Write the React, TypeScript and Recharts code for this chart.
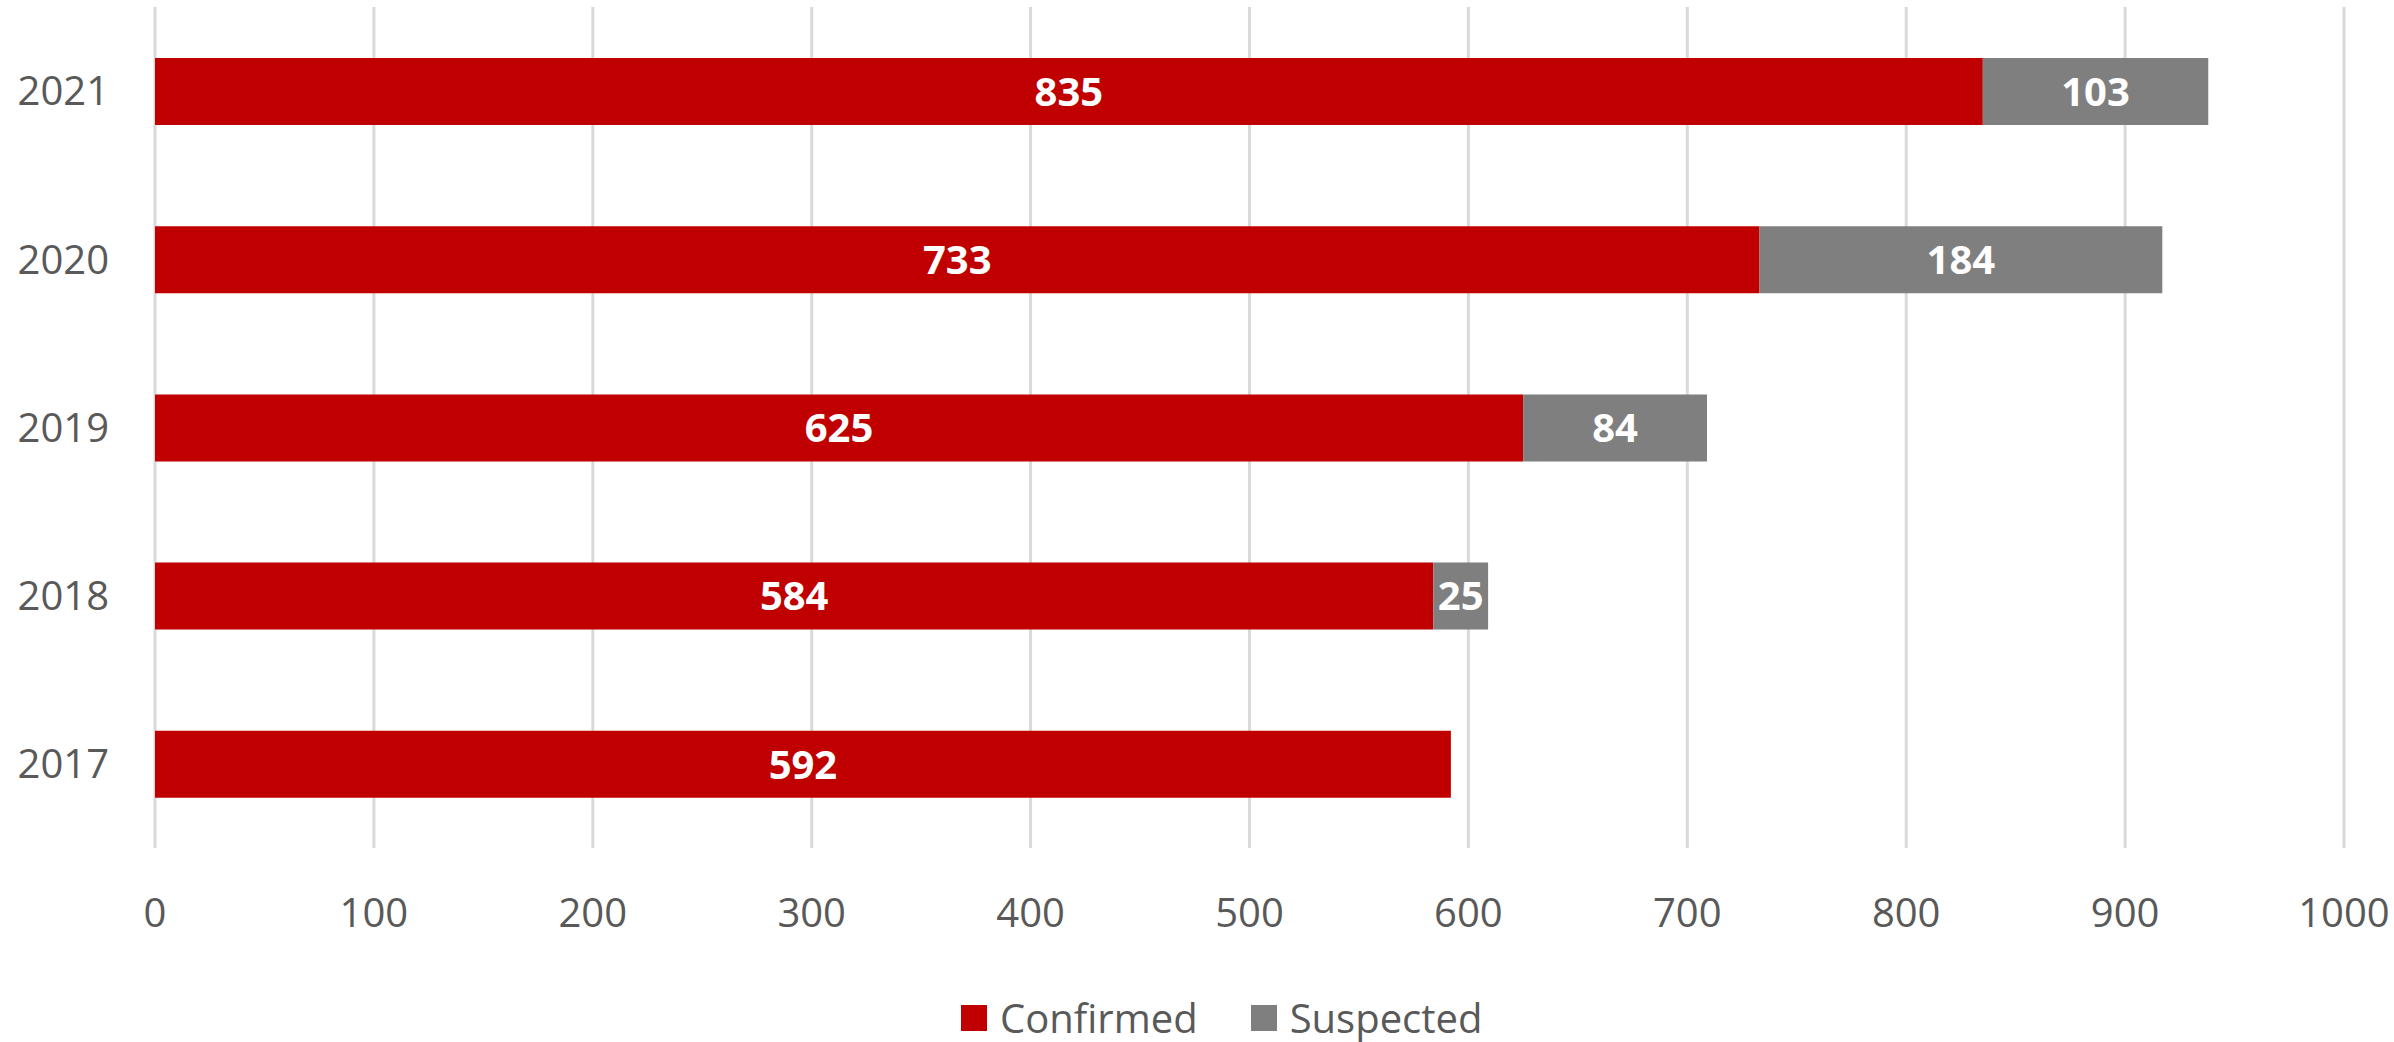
import React from 'react';
import { BarChart, Bar, XAxis, YAxis, CartesianGrid, Legend, LabelList } from 'recharts';

const years = ['2021', '2020', '2019', '2018', '2017'];
const confirmed = [835, 733, 625, 584, 592];
const suspected = [103, 184, 84, 25, 0];
const xTicks = [0, 100, 200, 300, 400, 500, 600, 700, 800, 900, 1000];

const seriesNames = { confirmed: 'Confirmed', suspected: 'Suspected' };
const colors = { confirmed: '#C00000', suspected: '#7F7F7F' };

const data = years.map((y, i) => ({ year: y, confirmed: confirmed[i], suspected: suspected[i] }));

const FONT = '"Open Sans", sans-serif';

const LegendContent = () => (
  <div style={{ display: 'flex', alignItems: 'center', fontFamily: FONT, fontSize: 40, color: '#595959' }}>
    {(['confirmed', 'suspected'] as const).map((k, i) => (
      <div key={k} style={{ display: 'flex', alignItems: 'center', marginRight: i === 0 ? 53 : 0 }}>
        <div style={{ width: 26, height: 26, background: colors[k], marginRight: 13 }} />
        <span style={{ lineHeight: '56px' }}>{seriesNames[k]}</span>
      </div>
    ))}
  </div>
);

const fmt = (v: any) => (v ? v : '');

export default function App() {
  return (
    <div style={{ position: 'absolute', left: 0, top: 0, background: '#fff' }}>
      <BarChart
        width={2394}
        height={1042}
        data={data}
        layout="vertical"
        margin={{ top: 7, right: 50, left: 0, bottom: 114 }}
        barSize={67}
      >
        <CartesianGrid horizontal={false} stroke="#d9d9d9" strokeWidth={3} />
        <XAxis
          type="number"
          domain={[0, 1000]}
          ticks={xTicks}
          axisLine={false}
          tickLine={false}
          height={80}
          tickMargin={45}
          tick={{ fill: '#595959', fontSize: 40, fontFamily: FONT }}
          interval={0}
        />
        <YAxis
          type="category"
          dataKey="year"
          width={155}
          axisLine={false}
          tickLine={false}
          tickMargin={40}
          tick={{ fill: '#595959', fontSize: 40, fontFamily: FONT }}
        />
        <Legend
          verticalAlign="middle"
          align="center"
          layout="horizontal"
          content={<LegendContent />}
          wrapperStyle={{ left: 961, top: 990, width: 'auto' }}
        />
        <Bar dataKey="confirmed" name={seriesNames.confirmed} stackId="a" fill={colors.confirmed} isAnimationActive={false}>
          <LabelList dataKey="confirmed" position="center" formatter={fmt} fill="#ffffff" fontSize={40} fontWeight="bold" fontFamily={FONT} />
        </Bar>
        <Bar dataKey="suspected" name={seriesNames.suspected} stackId="a" fill={colors.suspected} isAnimationActive={false}>
          <LabelList dataKey="suspected" position="center" formatter={fmt} fill="#ffffff" fontSize={40} fontWeight="bold" fontFamily={FONT} />
        </Bar>
      </BarChart>
    </div>
  );
}
